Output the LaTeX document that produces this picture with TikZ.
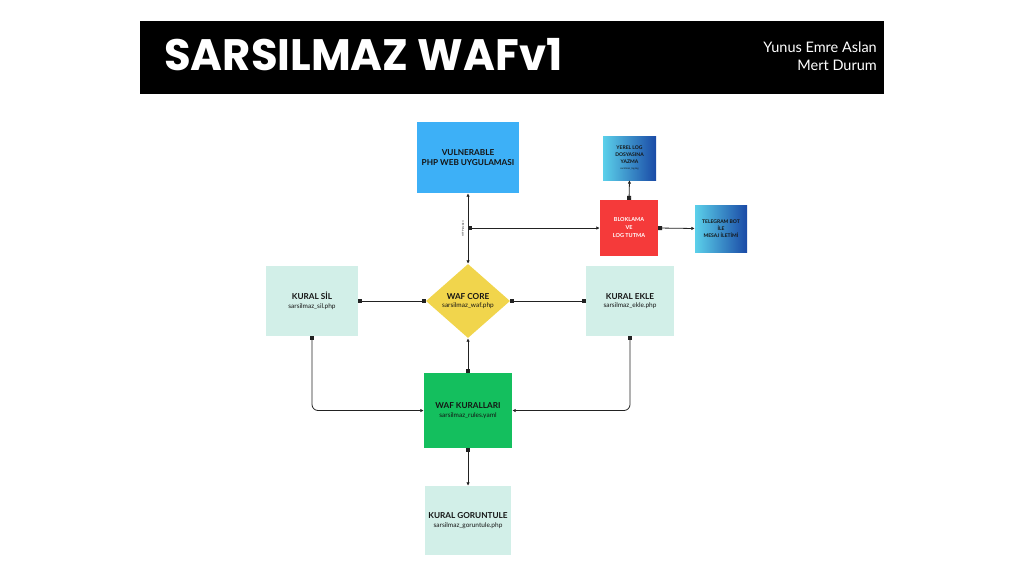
\documentclass[tikz,border=0pt]{standalone}
\usepackage{fontspec}
\setmainfont{Lato}
\newfontfamily\titlefont{Poppins}
\usetikzlibrary{arrows.meta,shapes.geometric}
\definecolor{vulnblue}{HTML}{3DB0F7}
\definecolor{mint}{HTML}{D2EFE8}
\definecolor{coreyellow}{HTML}{F1D54C}
\definecolor{rulesgreen}{HTML}{14BF5E}
\definecolor{blockred}{HTML}{F53A3A}
\definecolor{gradcyan}{HTML}{5BD0EA}
\definecolor{gradblue}{HTML}{1A4AA6}
\definecolor{txtdark}{HTML}{141414}
\definecolor{linecol}{HTML}{222222}
\tikzset{
  boxbase/.style={inner sep=0pt, align=center, text=txtdark, font=\bfseries\fontsize{8.2}{9.5}\selectfont},
  gradbox/.style={boxbase, left color=gradcyan, right color=gradblue, font=\bfseries\fontsize{5}{7}\selectfont},
  conn/.style={draw=linecol, line width=0.8pt},
  sqtip/.tip={Square[length=4pt,width=4pt]},
  tritip/.tip={Latex[length=3.5pt,width=3.5pt]}
}
\newcommand{\subline}[1]{{\mdseries\fontsize{6.5}{7.5}\selectfont #1}}
\begin{document}
\begin{tikzpicture}[x=1pt,y=-1pt]
\useasboundingbox (0,0) rectangle (1024,576);
\fill[white] (0,0) rectangle (1024,576);
% header
\fill[black] (140,21) rectangle (884,94);
\node[anchor=base west, inner sep=0pt, text=white, xscale=0.985, font=\titlefont\bfseries\fontsize{44}{44}\selectfont] (title) at (164,70.5) {SARSILMAZ WAFv1};
\node[anchor=north east, inner sep=0pt, align=right, text=white, font=\fontsize{14.5}{18}\selectfont] (authors) at (877,42) {Yunus Emre Aslan\\Mert Durum};
% nodes
\node[boxbase, fill=vulnblue, minimum width=102pt, minimum height=71pt] (vuln) at (468,157.5) {VULNERABLE\\PHP WEB UYGULAMASI};
\node[gradbox, minimum width=53pt, minimum height=44pt] (yerel) at (629.5,158) {YEREL LOG\\DOSYASINA\\YAZMA\\[-1pt]{\mdseries\fontsize{2.5}{3}\selectfont sarsilmaz\_log.log}};
\node[boxbase, fill=blockred, text=white, minimum width=58pt, minimum height=56pt, font=\bfseries\fontsize{5.5}{8}\selectfont] (blok) at (629,228) {BLOKLAMA\\VE\\LOG TUTMA};
\node[gradbox, minimum width=52pt, minimum height=47pt] (tele) at (721,228.5) {TELEGRAM BOT\\İLE\\MESAJ İLETİMİ};
\node[boxbase, fill=mint, minimum width=92pt, minimum height=70pt] (sil) at (312,301) {KURAL SİL\\[-1pt]\subline{sarsilmaz\_sil.php}};
\node[boxbase, fill=coreyellow, diamond, minimum width=84pt, minimum height=74pt, inner sep=0pt] (core) at (468,301) {WAF CORE\\[-1pt]\subline{sarsilmaz\_waf.php}};
\node[boxbase, fill=mint, minimum width=88pt, minimum height=70pt] (ekle) at (630,301) {KURAL EKLE\\[-1pt]\subline{sarsilmaz\_ekle.php}};
\node[boxbase, fill=rulesgreen, minimum width=88pt, minimum height=75pt] (rules) at (468,410.5) {WAF KURALLARI\\[-1pt]\subline{sarsilmaz\_rules.yaml}};
\node[boxbase, fill=mint, minimum width=86pt, minimum height=69pt] (gor) at (468,520.5) {KURAL GORUNTULE\\[-1pt]\subline{sarsilmaz\_goruntule.php}};
% connectors
\draw[conn, {tritip}-{tritip}] (vuln.south) -- (core.north);
\coordinate (j) at (468,228);
\node[rotate=90, inner sep=0pt, font=\fontsize{2.5}{3}\selectfont, text=txtdark] (lbl) at (463,229) {HTTP istekleri};
\draw[conn, {sqtip}-{tritip}] (j) -- (blok.west);
\draw[conn, {sqtip}-{tritip}] (blok.north) -- (yerel.south);
\draw[conn, {sqtip}-{tritip}] (blok.east) -- (tele.west);
\draw[conn, {sqtip}-{sqtip}] (sil.east) -- (core.west);
\draw[conn, {sqtip}-{sqtip}] (core.east) -- (ekle.west);
\draw[conn, {sqtip}-{tritip}] (rules.north) -- (core.south);
\draw[conn, rounded corners=6pt, {sqtip}-{tritip}] (sil.south) |- (rules.west);
\draw[conn, rounded corners=6pt, {sqtip}-{tritip}] (ekle.south) |- (rules.east);
\draw[conn, {sqtip}-{tritip}] (rules.south) -- (gor.north);
\end{tikzpicture}
\end{document}
